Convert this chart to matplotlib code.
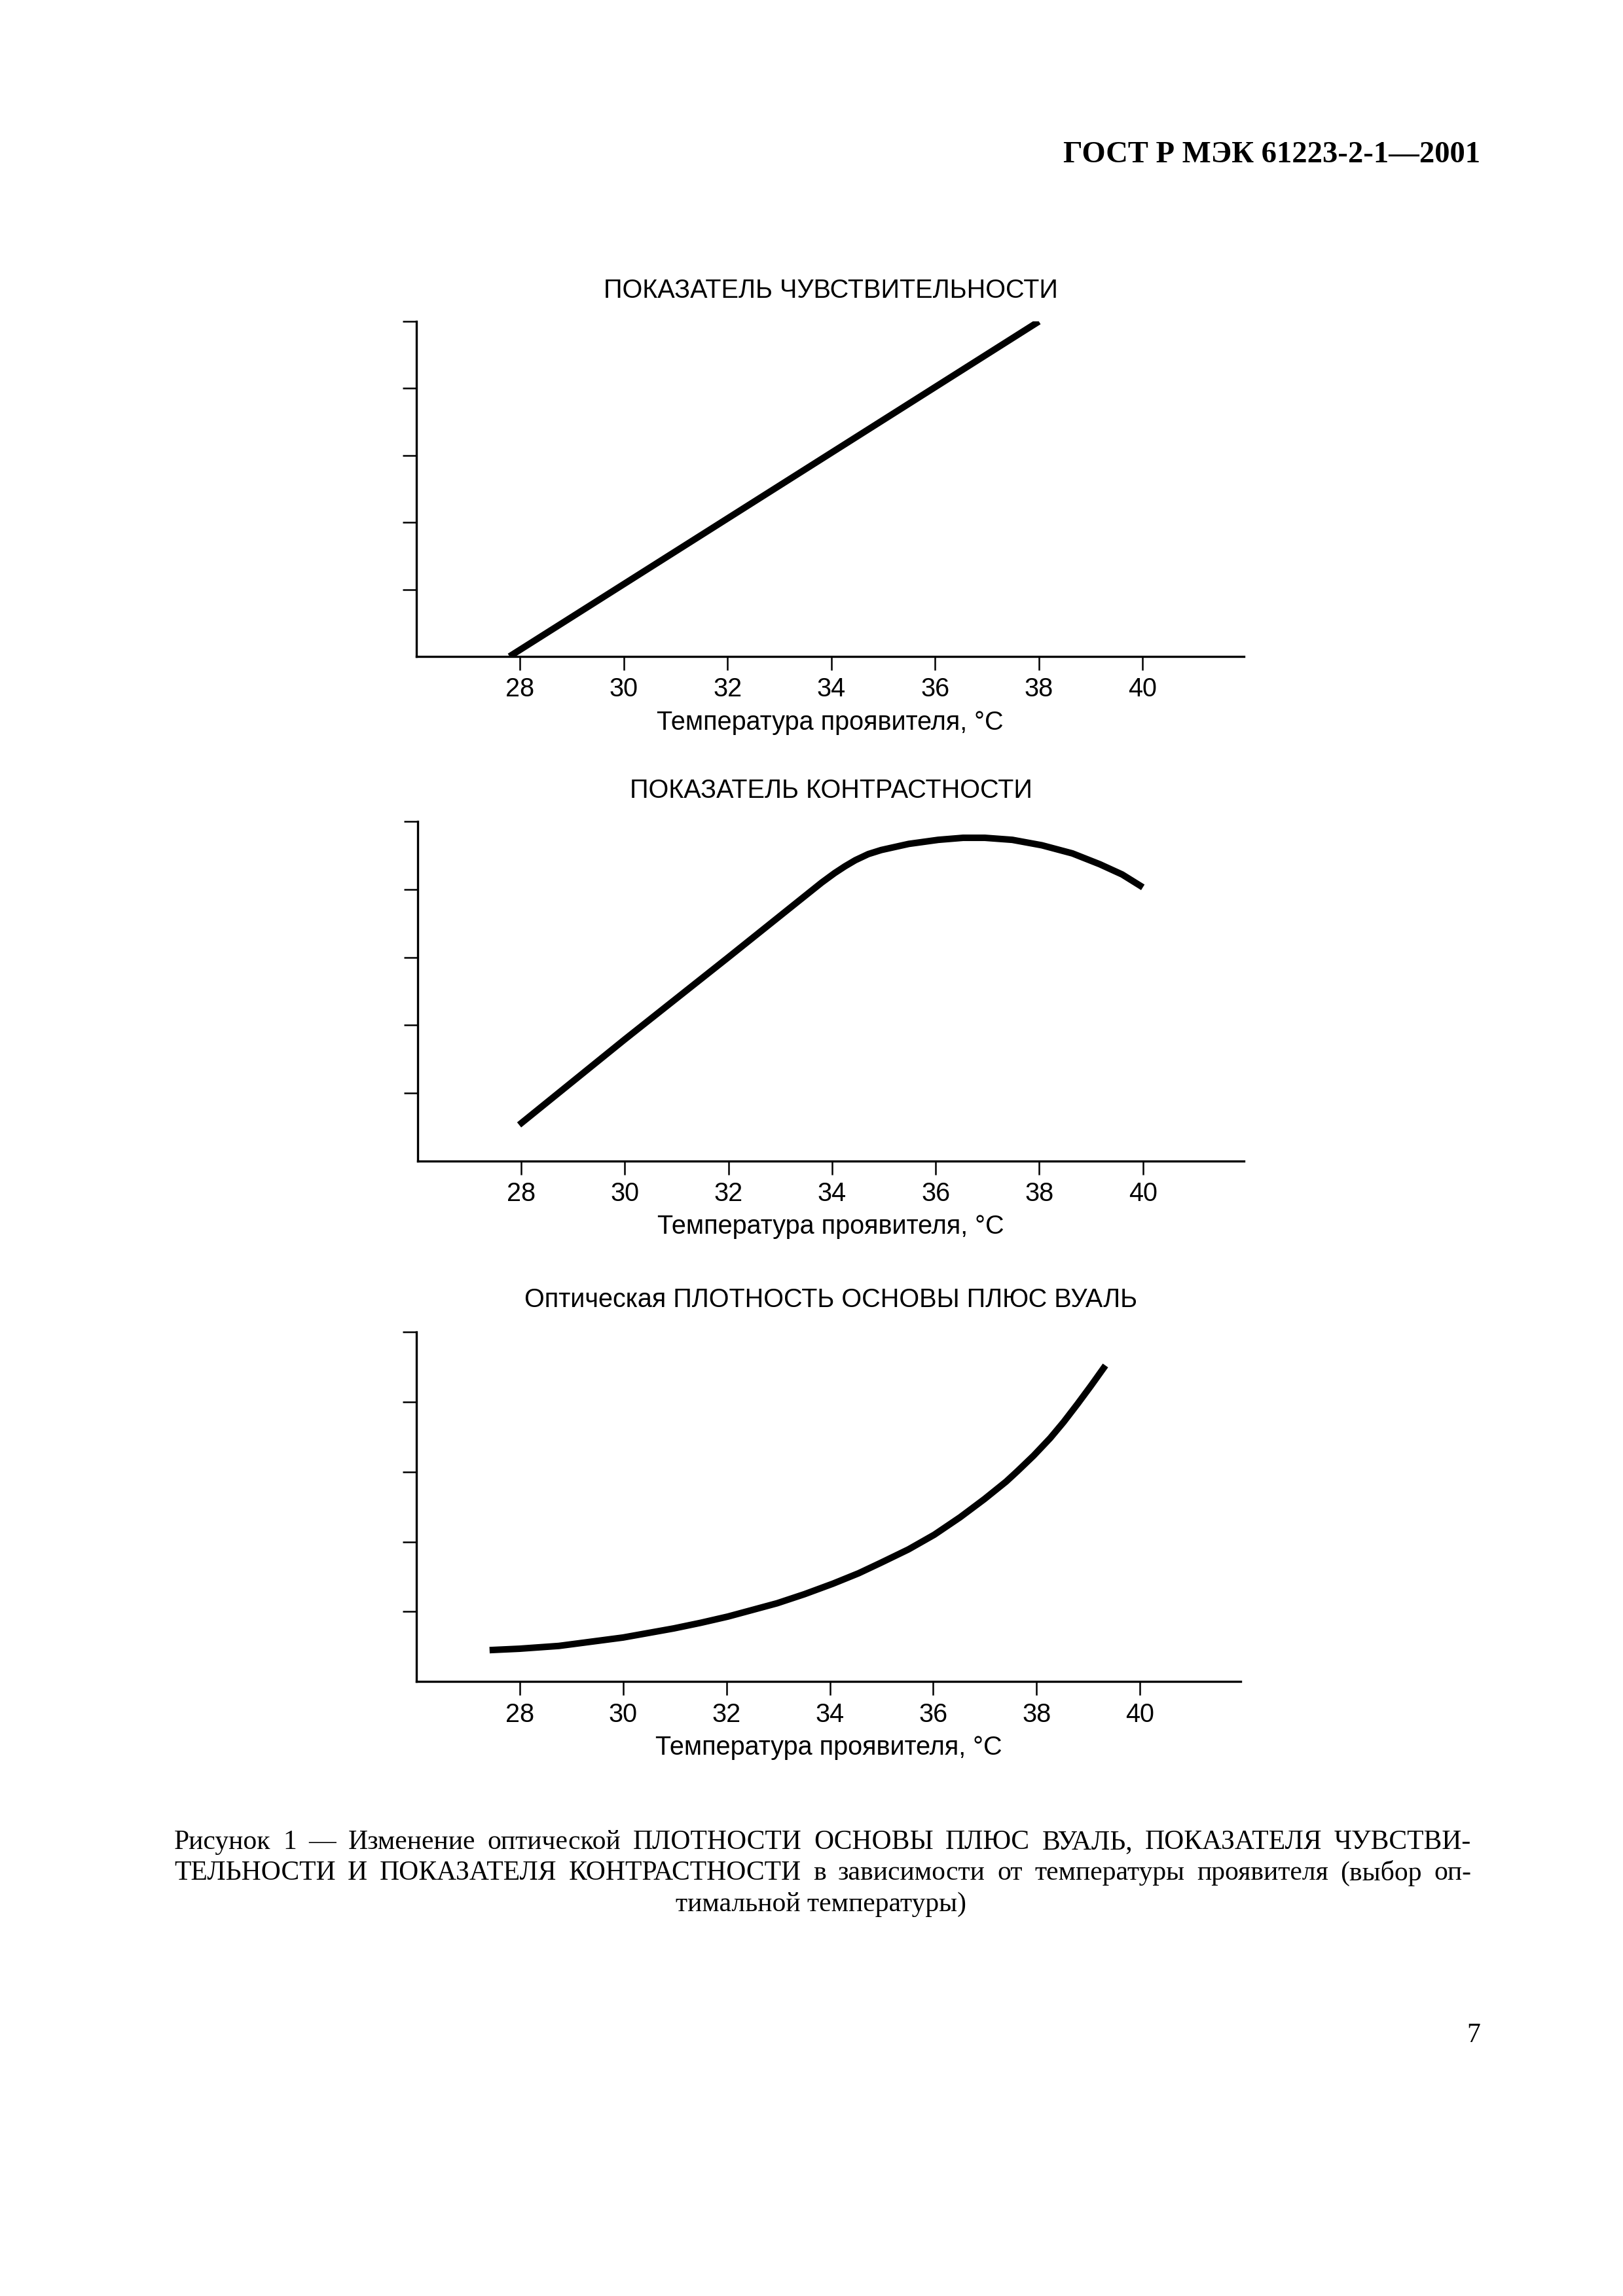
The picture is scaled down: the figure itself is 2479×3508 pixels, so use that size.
##########################################################################
import matplotlib
matplotlib.use('Agg')
import matplotlib.pyplot as plt
import numpy as np
##########################################################################
#
#                      GENERAL
#
##########################################################################
plt.rcParams['font.family'] = ['Liberation Sans', 'DejaVu Sans']
plt.rcParams['font.size'] = 9.5

# A4 page at 300 dpi
w, h = 2479 / 300., 3508 / 300.
rs = 300

lw_curve = 2.4
lw_axis  = 0.8
lw_tick  = 0.6

xn = 'Температура проявителя, °C'
x_ticks = [28, 30, 32, 34, 36, 38, 40]
y_ticks = [1, 2, 3, 4, 5]
xmin, xmax = 26.0, 41.95
ymin, ymax = 0.0, 5.0

header = 'ГОСТ Р МЭК 61223-2-1—2001'
page_no = '7'
caption = ['Рисунок 1 — Изменение оптической ПЛОТНОСТИ ОСНОВЫ ПЛЮС ВУАЛЬ, ПОКАЗАТЕЛЯ ЧУВСТВИ-',
           'ТЕЛЬНОСТИ И ПОКАЗАТЕЛЯ КОНТРАСТНОСТИ в зависимости от температуры проявителя (выбор оп-',
           'тимальной температуры)']
##########################################################################
#
#                      DATA
#
##########################################################################
ttl_1 = 'ПОКАЗАТЕЛЬ ЧУВСТВИТЕЛЬНОСТИ'
t_1   = [27.8, 38.0]
v_1   = [0.0, 5.0]

ttl_2 = 'ПОКАЗАТЕЛЬ КОНТРАСТНОСТИ'
t_2   = [27.96, 30.0, 32.0, 33.8, 34.05, 34.25, 34.45, 34.7, 34.95, 35.48,
         36.05, 36.53, 36.95, 37.48, 38.05, 38.64, 39.17, 39.6, 40.0]
v_2   = [0.53, 1.79, 3.0, 4.10, 4.24, 4.34, 4.43, 4.52, 4.58, 4.67,
         4.73, 4.76, 4.76, 4.73, 4.65, 4.53, 4.37, 4.22, 4.03]

ttl_3 = 'Оптическая ПЛОТНОСТЬ ОСНОВЫ ПЛЮС ВУАЛЬ'
t_3   = [27.42, 28.0, 28.76, 30.0, 30.98, 31.5, 32.03, 32.98, 33.51, 34.06,
         34.56, 34.99, 35.52, 36.02, 36.52, 36.99, 37.41, 37.63, 37.94, 38.26,
         38.52, 38.79, 39.05, 39.33]
v_3   = [0.45, 0.47, 0.51, 0.63, 0.76, 0.84, 0.93, 1.12, 1.25, 1.40,
         1.55, 1.70, 1.89, 2.10, 2.35, 2.61, 2.86, 3.01, 3.23, 3.48,
         3.71, 3.97, 4.23, 4.52]
##########################################################################
#
#                      PLOTTING
#
##########################################################################
figr = plt.figure(figsize=(w, h), dpi=rs)
figr.patch.set_facecolor('white')

# [left, bottom, width, height], title y
boxes = [([0.2564, 0.7141, 0.5100, 0.1459], 0.8734),
         ([0.2573, 0.4944, 0.5091, 0.1478], 0.6557),
         ([0.2564, 0.2676, 0.5082, 0.1523], 0.4340)]
series = [(ttl_1, t_1, v_1), (ttl_2, t_2, v_2), (ttl_3, t_3, v_3)]

for (box, ty), (ttl, tx, ty_v) in zip(boxes, series):
    ax = figr.add_axes(box)
    ax.plot(tx, ty_v, c='k', linewidth=lw_curve, solid_capstyle='butt',
            solid_joinstyle='round')
    ax.set_xlim(xmin, xmax)
    ax.set_ylim(ymin, ymax)
    ax.set_xticks(x_ticks)
    ax.set_yticks(y_ticks)
    ax.set_yticklabels([])
    for s in ['top', 'right']:
        ax.spines[s].set_visible(False)
    for s in ['left', 'bottom']:
        ax.spines[s].set_linewidth(lw_axis)
    ax.tick_params(axis='both', direction='out', length=5, width=lw_tick,
                   labelsize=9.5, pad=2.5)
    ax.set_xlabel(xn, fontsize=9.5, labelpad=3)
    ax.patch.set_alpha(0)
    figr.text(0.512, ty, ttl, ha='center', va='center', fontsize=9.5)
#-------------------------------------------------------------------------
# Header, caption, page number
#-------------------------------------------------------------------------
serif = ['Liberation Serif', 'DejaVu Serif']
figr.text(0.912, 0.9325, header, ha='right', va='center', fontsize=11.2,
          fontweight='bold', family=serif)
figr.text(0.912, 0.1134, page_no, ha='right', va='center', fontsize=10,
          family=serif)

x0, x1 = 0.1073, 0.9064
cap_y = [0.1976, 0.1842, 0.1706]
rend = figr.canvas.get_renderer()
fw = figr.get_figwidth() * rs
for i, (line, yy) in enumerate(zip(caption, cap_y)):
    if i == len(caption) - 1:
        figr.text(0.506, yy, line, ha='center', va='center', fontsize=10,
                  family=serif)
        continue
    # justified line
    words = line.split(' ')
    txts = [figr.text(0, yy, wd, ha='left', va='center', fontsize=10,
                      family=serif) for wd in words]
    wid = [t.get_window_extent(rend).width / fw for t in txts]
    gap = ((x1 - x0) - sum(wid)) / (len(words) - 1)
    xx = x0
    for t, ww in zip(txts, wid):
        t.set_x(xx)
        xx += ww + gap

figr.savefig('out.png', dpi=rs, facecolor='white')
##########################################################################
